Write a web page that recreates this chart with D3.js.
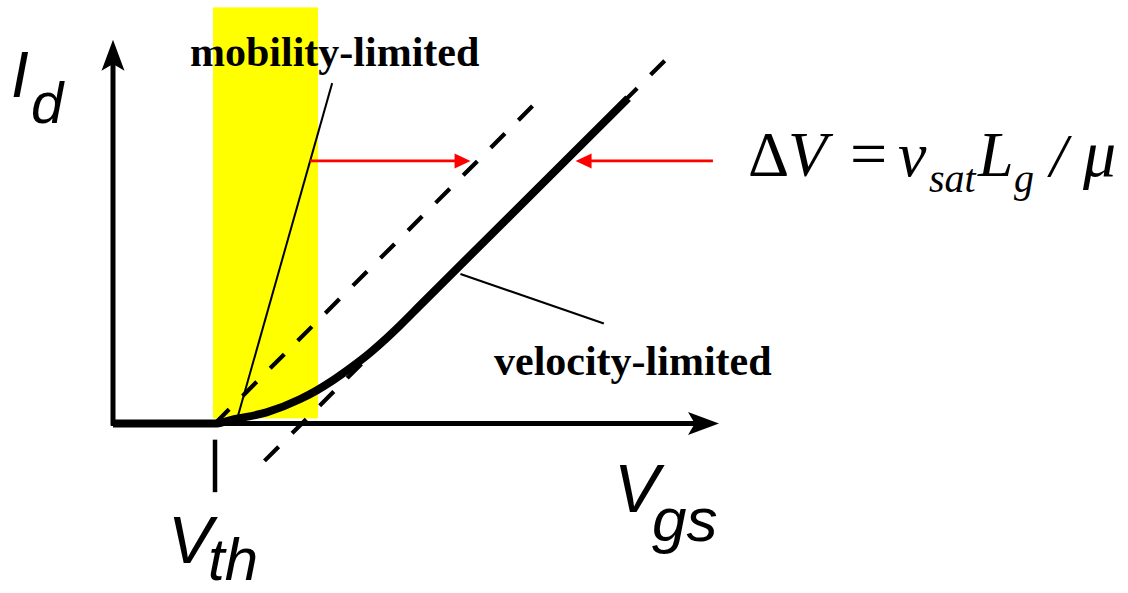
<!DOCTYPE html>
<html>
<head>
<meta charset="utf-8">
<script src="https://cdn.jsdelivr.net/npm/d3@7"></script>
<style>
  html, body { margin: 0; padding: 0; background: #fff; }
  svg { display: block; }
</style>
</head>
<body>
<svg id="chart" width="1128" height="593"></svg>
<script>
// Drain current vs. gate voltage: mobility-limited vs. velocity-limited regimes
const vgs = [0, 1.01, 1.19, 1.52, 1.85, 2.02, 2.18, 2.35, 2.52, 2.67, 2.84, 3.04, 5.10];
const id  = [0, 0,    0.04, 0.11, 0.24, 0.33, 0.43, 0.55, 0.68, 0.81, 0.97, 1.17, 3.22];

const vth = 1.01;          // threshold voltage
const deltaV = 0.86;       // vsat*Lg/mu shift of the velocity-limited asymptote
const mobilityBand = [0.99, 2.03];      // Vgs range highlighted as mobility-limited
const mobilityLineRange = [1.01, 4.23]; // Id = Vgs - Vth
const velocityLineRange = [1.50, 5.59]; // Id = Vgs - Vth - deltaV

const axisMax = { vgs: 6, id: 3.8 };

const svg = d3.select("#chart");

const x = d3.scaleLinear().domain([0, axisMax.vgs]).range([113, 719]);
const y = d3.scaleLinear().domain([0, axisMax.id]).range([423.5, 39.7]);

// highlighted mobility-limited band
svg.append("rect")
  .attr("x", x(mobilityBand[0]))
  .attr("y", y(4.12))
  .attr("width", x(mobilityBand[1]) - x(mobilityBand[0]))
  .attr("height", y(0.05) - y(4.12))
  .attr("fill", "#ffff00");

// arrow-headed axes
function arrowHead(tx, ty, angle, len, half, fill) {
  const notch = len * 0.22;
  const pts = [[0, 0], [-len, -half], [-len + notch, 0], [-len, half]];
  svg.append("path")
    .attr("d", "M" + pts.map(p => p.join(",")).join("L") + "Z")
    .attr("transform", `translate(${tx},${ty}) rotate(${angle})`)
    .attr("fill", fill);
}

svg.append("line")
  .attr("x1", x(0)).attr("x2", x(0))
  .attr("y1", y(0) + 2).attr("y2", y(axisMax.id) + 20)
  .attr("stroke", "#000").attr("stroke-width", 5);
arrowHead(x(0), y(axisMax.id), -90, 31, 11.5, "#000");

svg.append("line")
  .attr("x1", x(0) - 2).attr("x2", x(axisMax.vgs) - 20)
  .attr("y1", y(0)).attr("y2", y(0))
  .attr("stroke", "#000").attr("stroke-width", 5);
arrowHead(x(axisMax.vgs), y(0), 0, 31, 11.5, "#000");

// threshold tick below the axis
svg.append("line")
  .attr("x1", x(vth)).attr("x2", x(vth))
  .attr("y1", y(-0.16)).attr("y2", y(-0.68))
  .attr("stroke", "#000").attr("stroke-width", 4.5);

// dashed reference lines
const dashed = [
  { from: mobilityLineRange[0], to: mobilityLineRange[1], shift: vth },
  { from: velocityLineRange[0], to: velocityLineRange[1], shift: vth + deltaV }
];
svg.selectAll("line.ref")
  .data(dashed)
  .join("line")
  .attr("class", "ref")
  .attr("x1", d => x(d.from)).attr("y1", d => y(d.from - d.shift))
  .attr("x2", d => x(d.to)).attr("y2", d => y(d.to - d.shift))
  .attr("stroke", "#000")
  .attr("stroke-width", 4.2)
  .attr("stroke-dasharray", "20 19");

// Id-Vgs characteristic
const pts = vgs.map((v, i) => [v, id[i]]);
svg.append("path")
  .datum(pts)
  .attr("d", d3.line().x(d => x(d[0])).y(d => y(d[1])).curve(d3.curveMonotoneX))
  .attr("fill", "none")
  .attr("stroke", "#000")
  .attr("stroke-width", 8);

// label leader lines
const leaders = [
  [[1.23, 0.05], [2.17, 3.37]],
  [[3.44, 1.48], [4.86, 0.99]]
];
svg.selectAll("line.leader")
  .data(leaders)
  .join("line")
  .attr("class", "leader")
  .attr("x1", d => x(d[0][0])).attr("y1", d => y(d[0][1]))
  .attr("x2", d => x(d[1][0])).attr("y2", d => y(d[1][1]))
  .attr("stroke", "#000")
  .attr("stroke-width", 2);

// red arrows marking the voltage shift
const shiftArrows = [
  { from: 1.95, to: 3.54, level: 2.6 },
  { from: 5.94, to: 4.58, level: 2.6 }
];
shiftArrows.forEach(a => {
  const dir = a.to > a.from ? 1 : -1;
  svg.append("line")
    .attr("x1", x(a.from)).attr("x2", x(a.to) - dir * 12)
    .attr("y1", y(a.level)).attr("y2", y(a.level))
    .attr("stroke", "#ff0000").attr("stroke-width", 2.6);
  svg.append("path")
    .attr("d", "M0,0L-16,-7.5L-16,7.5Z")
    .attr("transform", `translate(${x(a.to)},${y(a.level)}) rotate(${dir > 0 ? 0 : 180})`)
    .attr("fill", "#ff0000");
});

// axis titles
const sans = "'Liberation Sans', Arial, sans-serif";
function symbol(main, sub, mx, my, msize, sx, sy, ssize) {
  const t = svg.append("text").attr("font-family", sans).attr("font-style", "italic").attr("fill", "#000");
  t.append("tspan").attr("x", mx).attr("y", my).attr("font-size", msize).text(main);
  t.append("tspan").attr("x", sx).attr("y", sy).attr("font-size", ssize).text(sub);
}
symbol("I", "d", 11, 97, 64, 31, 123, 58);
symbol("V", "gs", 614, 512, 68, 652, 541, 62);
symbol("V", "th", 168, 563, 67, 208, 580, 60);

// regime labels
const serif = "'Liberation Serif', 'Times New Roman', serif";
svg.append("text")
  .attr("x", 190).attr("y", 66)
  .attr("font-family", serif).attr("font-weight", "bold").attr("font-size", 42)
  .text("mobility-limited");
svg.append("text")
  .attr("x", 494).attr("y", 375)
  .attr("font-family", serif).attr("font-weight", "bold").attr("font-size", 42)
  .text("velocity-limited");

// shift formula
const f = svg.append("text").attr("font-family", serif).attr("fill", "#000");
const parts = [
  { t: "\u0394", x: 748, y: 176, s: 64, i: false },
  { t: "V", x: 788, y: 176, s: 64, i: true },
  { t: "=", x: 850, y: 176, s: 66, i: false },
  { t: "v", x: 898, y: 176, s: 64, i: true },
  { t: "sat", x: 929, y: 192, s: 40, i: true },
  { t: "L", x: 978, y: 176, s: 64, i: true },
  { t: "g", x: 1014, y: 192, s: 40, i: true },
  { t: "/", x: 1050, y: 176, s: 62, i: true },
  { t: "\u03bc", x: 1083, y: 176, s: 66, i: true }
];
parts.forEach(p => {
  f.append("tspan")
    .attr("x", p.x).attr("y", p.y)
    .attr("font-size", p.s)
    .attr("font-style", p.i ? "italic" : "normal")
    .text(p.t);
});
</script>
</body>
</html>
